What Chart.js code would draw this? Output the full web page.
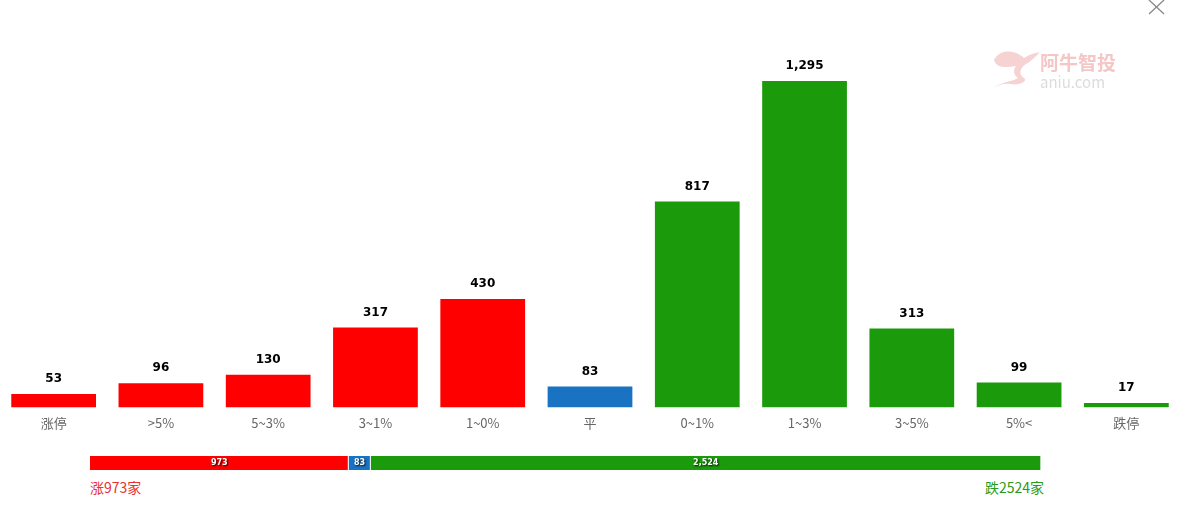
<!DOCTYPE html>
<html>
<head>
<meta charset="utf-8">
<script src="https://cdn.jsdelivr.net/npm/chart.js@4/dist/chart.umd.min.js"></script>
<style>
  body { margin: 0; background: #fff; width: 1183px; height: 515px; overflow: hidden; position: relative; font-family: "Noto Sans CJK SC", "Noto Sans", sans-serif; }
  #distWrap { position: absolute; left: 0; top: 0; width: 1183px; height: 440px; }
  #sumWrap { position: absolute; left: 90px; top: 456px; width: 951px; height: 14px; }
  .foot { position: absolute; top: 477px; font-size: 14px; }
  #upText { left: 90px; color: #e8312f; }
  #downText { right: 139px; color: #2b9a1a; }
  #logo { position: absolute; left: 990px; top: 44px; }
  #closeBtn { position: absolute; left: 1147px; top: 0px; }
</style>
</head>
<body>
<div id="distWrap"><canvas id="distChart"></canvas></div>
<div id="sumWrap"><canvas id="sumChart"></canvas></div>
<div class="foot" id="upText"></div>
<div class="foot" id="downText"></div>
<svg id="logo" width="130" height="50">
  <path d="M4 16 C10 4 26 6 34 14 C40 10 46 9 50 8 C44 14 40 18 36 20 C30 24 28 30 34 34 C38 37 30 42 20 40 C14 39 8 41 4 44 C10 38 22 38 28 34 C22 30 24 24 26 22 C16 24 6 24 4 16 Z" fill="#f7d2d2"/>
  <text x="50" y="26" font-size="19" font-weight="bold" fill="#f5c6c6">阿牛智投</text>
  <text x="50" y="44" font-size="15" fill="#dcdcdc">aniu.com</text>
</svg>
<svg id="closeBtn" width="20" height="16">
  <line x1="2" y1="0" x2="17" y2="14" stroke="#888" stroke-width="1.3"/>
  <line x1="17" y1="0" x2="2" y2="14" stroke="#888" stroke-width="1.3"/>
</svg>
<script>
// distribution of price changes
const categories = ['涨停', '>5%', '5~3%', '3~1%', '1~0%', '平', '0~1%', '1~3%', '3~5%', '5%<', '跌停'];
const counts = [53, 96, 130, 317, 430, 83, 817, 1295, 313, 99, 17];
const barColors = ['#ff0000', '#ff0000', '#ff0000', '#ff0000', '#ff0000', '#1a73c2', '#1b9b0b', '#1b9b0b', '#1b9b0b', '#1b9b0b', '#1b9b0b'];

// summary bar: up / flat / down
const sumLabels = ['涨', '平', '跌'];
const sumValues = [973, 83, 2524];
const sumColors = ['#ff0000', '#1a73c2', '#1b9b0b'];

const fmt = v => v.toLocaleString('en-US');

// draw numbers above bars
const topLabels = {
  id: 'topLabels',
  afterDatasetsDraw(chart) {
    const c = chart.ctx;
    const meta = chart.getDatasetMeta(0);
    c.save();
    c.font = 'bold 12px "DejaVu Sans", sans-serif';
    c.fillStyle = '#000';
    c.textAlign = 'center';
    c.textBaseline = 'middle';
    meta.data.forEach((bar, i) => {
      c.fillText(fmt(counts[i]), bar.x, bar.y - 15);
    });
    c.restore();
  }
};

new Chart(document.getElementById('distChart'), {
  type: 'bar',
  data: { labels: categories, datasets: [{ data: counts, backgroundColor: barColors, barPercentage: 0.79, categoryPercentage: 1 }] },
  options: {
    responsive: true,
    maintainAspectRatio: false,
    animation: false,
    layout: { padding: { top: 55, left: 0, right: 3, bottom: 1 } },
    plugins: { legend: { display: false }, tooltip: { enabled: false } },
    scales: {
      x: {
        grid: { display: false, drawTicks: false },
        border: { display: false },
        ticks: { color: '#666', font: { size: 13, family: '"Noto Sans CJK SC", sans-serif' }, padding: 8 }
      },
      y: { display: false, min: 0, max: 1398 }
    }
  },
  plugins: [topLabels]
});

// numbers inside summary segments
const innerLabels = {
  id: 'innerLabels',
  afterDatasetsDraw(chart) {
    const c = chart.ctx;
    c.save();
    c.font = 'bold 8px "DejaVu Sans", sans-serif';
    c.textAlign = 'center';
    c.textBaseline = 'middle';
    c.fillStyle = '#fff';
    c.shadowColor = 'rgba(0,0,0,0.9)';
    c.shadowBlur = 2;
    c.shadowOffsetX = 1;
    c.shadowOffsetY = 1;
    chart.data.datasets.forEach((ds, i) => {
      const bar = chart.getDatasetMeta(i).data[0];
      c.fillText(fmt(ds.data[0]), (bar.x + bar.base) / 2, bar.y);
    });
    c.restore();
  }
};

new Chart(document.getElementById('sumChart'), {
  type: 'bar',
  data: {
    labels: [''],
    datasets: sumValues.map((v, i) => ({
      label: sumLabels[i], data: [v], backgroundColor: sumColors[i],
      borderColor: '#fff', borderWidth: { left: 0, right: 1, top: 0, bottom: 0 }, borderSkipped: false,
      barPercentage: 1, categoryPercentage: 1
    }))
  },
  options: {
    indexAxis: 'y',
    responsive: true,
    maintainAspectRatio: false,
    animation: false,
    layout: { padding: 0 },
    plugins: { legend: { display: false }, tooltip: { enabled: false } },
    scales: {
      x: { display: false, stacked: true, min: 0, max: sumValues.reduce((a, b) => a + b, 0) },
      y: { display: false, stacked: true }
    }
  },
  plugins: [innerLabels]
});

document.getElementById('upText').textContent = sumLabels[0] + sumValues[0] + '家';
document.getElementById('downText').textContent = sumLabels[2] + sumValues[2] + '家';
</script>
</body>
</html>
